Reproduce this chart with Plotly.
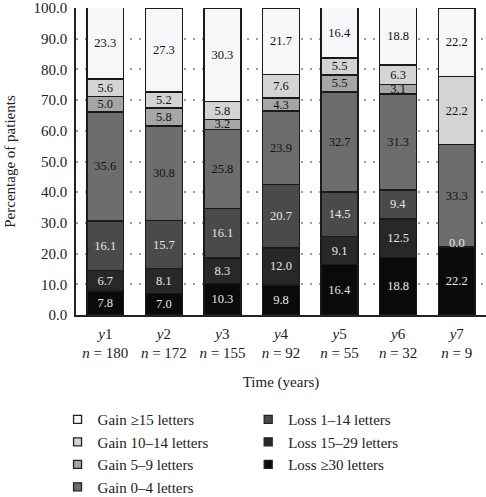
import plotly.graph_objects as go

years = ["y1", "y2", "y3", "y4", "y5", "y6", "y7"]
n_patients = [180, 172, 155, 92, 55, 32, 9]

series_names = ["Loss \u226530 letters", "Loss 15\u201329 letters", "Loss 1\u201314 letters",
                "Gain 0\u20134 letters", "Gain 5\u20139 letters", "Gain 10\u201314 letters",
                "Gain \u226515 letters"]

loss_30 = [7.8, 7.0, 10.3, 9.8, 16.4, 18.8, 22.2]
loss_15_29 = [6.7, 8.1, 8.3, 12.0, 9.1, 12.5, 0.0]
loss_1_14 = [16.1, 15.7, 16.1, 20.7, 14.5, 9.4, 0.0]
gain_0_4 = [35.6, 30.8, 25.8, 23.9, 32.7, 31.3, 33.3]
gain_5_9 = [5.0, 5.8, 3.2, 4.3, 5.5, 3.1, 0.0]
gain_10_14 = [5.6, 5.2, 5.8, 7.6, 5.5, 6.3, 22.2]
gain_15 = [23.3, 27.3, 30.3, 21.7, 16.4, 18.8, 22.2]

series_values = [loss_30, loss_15_29, loss_1_14, gain_0_4, gain_5_9, gain_10_14, gain_15]
colors = ["#0a0a0a", "#282828", "#4a4a4a", "#6d6d6d", "#a6a6a6", "#d4d4d4", "#f7f7f9"]
text_colors = ["#e6e6e6", "#e6e6e6", "#e6e6e6", "#111111", "#111111", "#111111", "#111111"]

FONT = "Liberation Serif"
tick_text = [f"<i>y</i>{y[1:]}<br><i>n</i> = {n}" for y, n in zip(years, n_patients)]

fig = go.Figure()
for i, (name, vals) in enumerate(zip(series_names, series_values)):
    fig.add_trace(go.Bar(
        x=years, y=vals, name=name, showlegend=False,
        marker=dict(color=colors[i], line=dict(color="#1a1a1a", width=1.5)),
        width=0.63,
        text=[f"{v:.1f}" if v > 0 else "" for v in vals],
        textposition="inside", insidetextanchor="middle", textangle=0,
        constraintext="none",
        textfont=dict(family=FONT, size=12.5, color=text_colors[i]),
        hoverinfo="skip",
    ))

# legend entries (small square swatches)
for i, name in enumerate(series_names):
    is_gain = name.startswith("Gain")
    fig.add_trace(go.Scatter(
        x=[None], y=[None], mode="markers", name=name,
        marker=dict(symbol="square", size=8, color=colors[i],
                    line=dict(color="#222", width=1.3)),
        legend="legend" if is_gain else "legend2",
        legendgroup=f"g{i}",
        legendrank=7 - i,
        hoverinfo="skip",
    ))

# zero label for y7 Loss 15-29 segment
zero_idx = [j for j, v in enumerate(loss_15_29) if v == 0]
for j in zero_idx:
    fig.add_annotation(x=years[j], y=loss_30[j] + loss_15_29[j], text="0.0",
                       showarrow=False, yshift=4,
                       font=dict(family=FONT, size=12.5, color="#e6e6e6"))

legend_common = dict(
    yanchor="top", orientation="v", traceorder="grouped", tracegroupgap=0,
    font=dict(family=FONT, size=15), bgcolor="rgba(0,0,0,0)",
    itemclick=False, itemdoubleclick=False,
)

fig.update_layout(
    barmode="stack",
    width=486, height=497,
    margin=dict(l=76, r=0, t=8, b=182, autoexpand=False),
    plot_bgcolor="white", paper_bgcolor="white",
    font=dict(family=FONT, size=15, color="#222"),
    xaxis=dict(
        categoryorder="array", categoryarray=years,
        tickvals=years, ticktext=tick_text,
        range=[-0.5, 6.5],
        showline=True, linecolor="#222", linewidth=1.5,
        showgrid=False, ticks="",
        ticklabelstandoff=4, ticklabeloverflow="allow",
        title=dict(text="Time (years)", standoff=16, font=dict(size=15)),
        tickfont=dict(size=15),
        automargin=False,
    ),
    yaxis=dict(
        range=[0, 100], dtick=10, tickformat=".1f",
        showline=True, linecolor="#222", linewidth=1.5,
        showgrid=True, gridcolor="#9a9a9a", griddash="1.5px,7.5px", gridwidth=1.5,
        ticks="", ticklabelstandoff=4, ticklabeloverflow="allow",
        layer="above traces",
        zeroline=False,
        title=dict(text="Percentage of patients", standoff=14, font=dict(size=15)),
        tickfont=dict(size=15),
        automargin=False,
    ),
    legend=dict(x=-0.045, y=-0.287, xanchor="left", **legend_common),
    legend2=dict(x=0.42, y=-0.287, xanchor="left", **legend_common),
    showlegend=True,
)

fig.write_html("out.html", config={"displayModeBar": False},
               post_script="document.body.style.margin='0';")
